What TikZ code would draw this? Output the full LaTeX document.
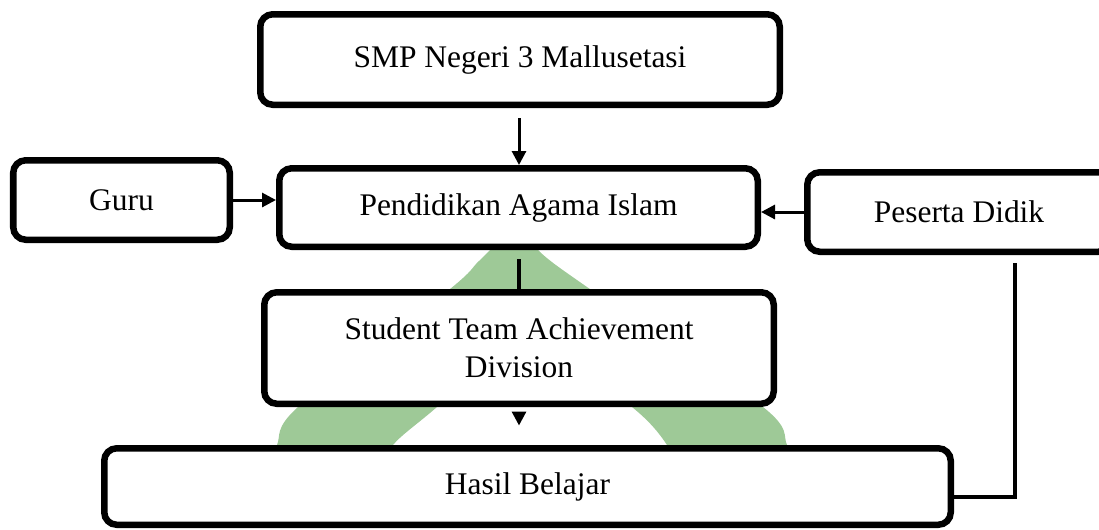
\documentclass[tikz,border=0pt]{standalone}
\usepackage{fontspec}
\setmainfont{Liberation Serif}
\usetikzlibrary{arrows.meta}
\definecolor{wmgreen}{RGB}{158,201,151}

\begin{document}
\begin{tikzpicture}[
  box/.style={draw=black, line width=3.7pt, rounded corners=0.25cm, fill=white,
              align=center, inner sep=0pt,
              font=\fontsize{17.9}{21.6}\selectfont},
  arr/.style={-{Triangle[length=2.8mm, width=2.8mm]}, line width=1.7pt, draw=black},
  conn/.style={line width=2.5pt, draw=black},
  wmark/.style={fill=wmgreen}
]

  \useasboundingbox (0,0) rectangle (21.98,-10.58);
  \clip (0,0) rectangle (21.98,-10.58);

  % ========== background arch ==========
  \fill[wmark] plot[smooth] coordinates {(5.36,-9.50) (5.54,-8.90) (5.96,-8.14)
      (9.00,-5.78) (9.60,-5.20) (10.40,-4.50) (10.80,-5.04) (11.74,-5.74)
      (15.26,-8.14) (15.74,-8.90) (15.90,-9.50)}
    -- plot[smooth] coordinates {(13.54,-9.50) (13.34,-8.90) (12.64,-8.14)
      (10.50,-6.60) (8.74,-8.14) (7.86,-8.90) (7.66,-9.50)}
    -- cycle;

  % ========== boxes ==========
  \node[box, minimum width=10.39cm, minimum height=1.81cm] (smp) at (10.40, -1.19)
    {SMP Negeri 3 Mallusetasi};

  \node[box, minimum width=4.33cm, minimum height=1.59cm] (guru) at (2.43, -4.00)
    {Guru};

  \node[box, minimum width=9.57cm, minimum height=1.57cm] (pai) at (10.37, -4.15)
    {Pendidikan Agama Islam};

  \node[box, minimum width=6.07cm, minimum height=1.59cm] (peserta) at (19.18, -4.24)
    {Peserta Didik};

  \node[box, minimum width=10.19cm, minimum height=2.23cm] (stad) at (10.38, -6.96)
    {Student Team Achievement\\Division};

  \node[box, minimum width=16.93cm, minimum height=1.53cm] (hasil) at (10.55, -9.73)
    {Hasil Belajar};

  % ========== arrows ==========
  \draw[arr, shorten <=0.2cm] (smp.south -| stad.north) -- (pai.north -| stad.north);
  \draw[arr] (guru.east) -- (guru.east -| pai.west);
  \draw[arr] (peserta.west) -- (peserta.west -| pai.east);

  \draw[conn, shorten <=0.18cm] (pai.south -| stad.north) -- (stad.north);
  \draw[arr, shorten <=0.21cm, shorten >=0.39cm] (stad.south) -- (stad.south |- hasil.north);

  \draw[conn, shorten <=0.16cm] ([xshift=1.12cm]peserta.south)
    |- ([yshift=-0.21cm]hasil.east);

\end{tikzpicture}
\end{document}
